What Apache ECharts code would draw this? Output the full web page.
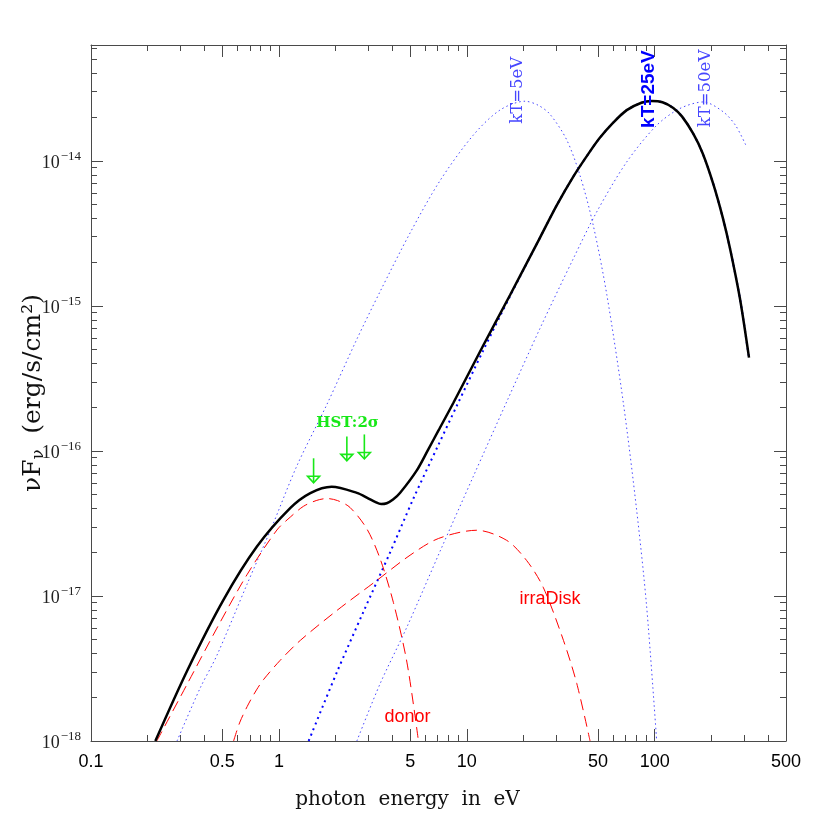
<!DOCTYPE html>
<html>
<head>
<meta charset="utf-8">
<title>nuFnu spectrum</title>
<script src="https://cdn.jsdelivr.net/npm/echarts@6/dist/echarts.min.js"></script>
<style>
  html, body { margin: 0; padding: 0; background: #fff; }
  #chart { width: 830px; height: 830px; }
</style>
</head>
<body>
<div id="chart"></div>
<script>
// photon energy (eV) and nuFnu (erg/s/cm2)
const totalE = [0.22, 0.324, 0.507, 0.764, 1.148, 1.47, 1.91, 2.6, 3.0, 3.25, 3.5, 3.75, 4.05, 4.42, 5.42, 6.2, 7.06, 8.49, 12.25, 17.0, 24.5, 30, 36.9, 45, 51.2, 60, 71, 85, 96.4, 110, 125.6, 140, 160.4, 180, 205, 230, 251.6, 284.5, 317.7];
const totalF = [1e-18, 3.03e-18, 9.4e-18, 2.19e-17, 4.03e-17, 5.12e-17, 5.66e-17, 5.14e-17, 4.7e-17, 4.45e-17, 4.3e-17, 4.36e-17, 4.62e-17, 5.15e-17, 7.35e-17, 1.01e-16, 1.38e-16, 2.15e-16, 5.36e-16, 1.19e-15, 2.95e-15, 4.9e-15, 7.8e-15, 1.15e-14, 1.45e-14, 1.83e-14, 2.24e-14, 2.52e-14, 2.59e-14, 2.54e-14, 2.32e-14, 2.02e-14, 1.54e-14, 1.13e-14, 6.95e-15, 4.1e-15, 2.5e-15, 1.12e-15, 4.4e-16];

const donorE = [0.224, 0.324, 0.468, 0.676, 0.976, 1.15, 1.35, 1.58, 1.80, 2.05, 2.39, 2.94, 3.46, 4.07, 4.80, 5.53];
const donorF = [1e-18, 2.45e-18, 6.0e-18, 1.4e-17, 2.85e-17, 3.5e-17, 4.15e-17, 4.55e-17, 4.7e-17, 4.55e-17, 4.08e-17, 2.9e-17, 1.8e-17, 9.0e-18, 3.5e-18, 1.0e-18];

const irraE = [0.574, 0.62, 0.689, 0.76, 0.828, 1.016, 1.30, 2.04, 3.32, 4.99, 7.06, 11.3, 16.3, 20.8, 25.5, 32.7, 38.5, 45.3];
const irraF = [1e-18, 1.35e-18, 1.8e-18, 2.25e-18, 2.65e-18, 3.6e-18, 4.94e-18, 7.96e-18, 1.28e-17, 1.91e-17, 2.49e-17, 2.84e-17, 2.42e-17, 1.76e-17, 1.15e-17, 4.94e-18, 2.49e-18, 1e-18];

const kT5E = [0.287, 0.38, 0.468, 0.676, 0.918, 1.247, 1.80, 2.60, 3.46, 5.0, 7.2, 10.8, 15.0, 20.4, 24.0, 27.7, 34.0, 40.1, 47.1, 55.6, 68.1, 80.2, 90.6, 102.5];
const kT5F = [1e-18, 2.3e-18, 3.9e-18, 1.2e-17, 3.0e-17, 7.9e-17, 2.09e-16, 5.9e-16, 1.26e-15, 3.2e-15, 7.3e-15, 1.5e-14, 2.24e-14, 2.58e-14, 2.42e-14, 2.1e-14, 1.4e-14, 7.9e-15, 3.6e-15, 1.2e-15, 2.15e-16, 3.9e-17, 8.5e-18, 1e-18];

const kT25E = [1.44, 2.04, 2.82, 3.91, 5.2, 7.06, 8.85, 12.25, 17.0, 24.5, 30, 36.9, 45, 51.2, 60, 71, 85, 96.4, 110, 125.6, 140, 160.4, 180, 205, 230, 251.6, 284.5, 317.7];
const kT25F = [1e-18, 3.0e-18, 7.8e-18, 2.0e-17, 4.7e-17, 1.1e-16, 2.05e-16, 4.95e-16, 1.17e-15, 2.95e-15, 4.9e-15, 7.8e-15, 1.15e-14, 1.45e-14, 1.83e-14, 2.24e-14, 2.52e-14, 2.59e-14, 2.54e-14, 2.32e-14, 2.02e-14, 1.54e-14, 1.13e-14, 6.95e-15, 4.1e-15, 2.5e-15, 1.12e-15, 4.4e-16];

const kT50E = [2.60, 3.46, 4.80, 7.25, 10.8, 16.3, 24.5, 36.9, 49.1, 71, 102.5, 136.4, 181.5, 231.7, 270, 308.6];
const kT50F = [1e-18, 2.49e-18, 6.1e-18, 2.07e-17, 6.62e-17, 2.18e-16, 6.98e-16, 2.12e-15, 4.44e-15, 9.84e-15, 1.76e-14, 2.3e-14, 2.55e-14, 2.18e-14, 1.75e-14, 1.25e-14];

// HST 2 sigma upper limits
const hstE = [1.53, 2.30, 2.85];
const hstF = [8.9e-17, 1.26e-16, 1.30e-16];

// text notes placed in data coordinates
const noteText = ['kT=5eV', 'kT=25eV', 'kT=50eV', 'HST:2σ', 'donor', 'irraDisk'];
const noteE = [18.6, 93.3, 187.5, 2.32, 4.84, 27.7];
const noteF = [3.07e-14, 3.13e-14, 3.16e-14, 1.56e-16, 1.47e-18, 9.48e-18];

// axis ticks
const xLabelValues = [0.1, 0.5, 1, 5, 10, 50, 100, 500];
const xMinorTicks = [0.2, 0.3, 0.4, 0.6, 0.7, 0.8, 0.9, 2, 3, 4, 6, 7, 8, 9, 20, 30, 40, 60, 70, 80, 90, 200, 300, 400];
const yLabelValues = [1e-18, 1e-17, 1e-16, 1e-15, 1e-14];
const yMinorMult = [2, 3, 4, 5, 6, 7, 8, 9];

const X_MIN = 0.1, X_MAX = 500, Y_MIN = 1e-18, Y_MAX = 6.3e-14;

const yMinorTicks = [];
yLabelValues.forEach(d => yMinorMult.forEach(m => {
  if (m * d < Y_MAX) yMinorTicks.push(m * d);
}));

const frame = '#4a4a4a';
const dotBlue = '#4646ff';
const green = '#18e818';

const noteStyle = [
  {color: dotBlue, size: 16.5, family: 'DejaVu Serif', weight: 'normal', rotate: true},
  {color: '#0000ff', size: 19, family: 'Liberation Sans', weight: 'bold', rotate: true},
  {color: dotBlue, size: 16.5, family: 'DejaVu Serif', weight: 'normal', rotate: true},
  {color: green, size: 15, family: 'DejaVu Serif', weight: 'bold', rotate: false},
  {color: '#ff0000', size: 18, family: 'Liberation Sans', weight: 'normal', rotate: false},
  {color: '#ff0000', size: 18, family: 'Liberation Sans', weight: 'normal', rotate: false}
];

function logAxis(pos, min, max, ticks, len, extra) {
  return Object.assign({
    type: 'log',
    logBase: 10,
    position: pos,
    min: min,
    max: max,
    axisLine: {show: true, onZero: false, lineStyle: {color: frame, width: 1}},
    axisTick: {show: true, inside: true, length: len, customValues: ticks, lineStyle: {color: frame, width: 1}},
    axisLabel: {show: false},
    splitLine: {show: false},
    minorTick: {show: false}
  }, extra || {});
}

function curve(E, F, style, z) {
  return {
    type: 'line',
    data: E.map((e, i) => [e, F[i]]),
    symbol: 'none',
    showSymbol: false,
    smooth: 0.3,
    lineStyle: style,
    z: z,
    silent: true
  };
}

const chart = echarts.init(document.getElementById('chart'));

chart.setOption({
  backgroundColor: '#fff',
  animation: false,
  grid: {left: 91, top: 45, width: 695, height: 696, containLabel: false, outerBoundsMode: 'none'},
  xAxis: [
    logAxis('bottom', X_MIN, X_MAX, xLabelValues, 12, {
      axisLabel: {
        show: true,
        customValues: xLabelValues,
        formatter: v => String(+(+v).toPrecision(3)),
        fontFamily: 'Liberation Sans',
        fontSize: 18,
        color: '#000',
        margin: 12
      },
      name: 'photon  energy  in  eV',
      nameLocation: 'middle',
      nameGap: 49,
      nameMoveOverlap: false,
      nameTextStyle: {fontFamily: 'DejaVu Serif', fontSize: 20, color: '#111', padding: [0, 62, 0, 0]}
    }),
    logAxis('bottom', X_MIN, X_MAX, xMinorTicks, 6, {axisLine: {show: false}}),
    logAxis('top', X_MIN, X_MAX, xLabelValues, 12),
    logAxis('top', X_MIN, X_MAX, xMinorTicks, 6, {axisLine: {show: false}})
  ],
  yAxis: [
    logAxis('left', Y_MIN, Y_MAX, yLabelValues, 12, {
      axisLabel: {
        show: true,
        customValues: yLabelValues,
        margin: 10,
        formatter: v => '{m|10}{e|−' + Math.round(-Math.log10(v)) + '}',
        rich: {
          m: {fontFamily: 'Liberation Serif', fontSize: 18, color: '#222', verticalAlign: 'bottom'},
          e: {fontFamily: 'Liberation Serif', fontSize: 13, color: '#222', verticalAlign: 'bottom', padding: [0, 0, 9, 1]}
        }
      },
      name: '{a|νF}{s|ν}{a|  (erg/s/cm²)}',
      nameLocation: 'middle',
      nameRotate: 90,
      nameGap: 44,
      nameMoveOverlap: false,
      nameTextStyle: {
        rich: {
          a: {fontFamily: 'DejaVu Serif', fontSize: 25, color: '#111', lineHeight: 28},
          s: {fontFamily: 'DejaVu Serif', fontSize: 16, color: '#111', lineHeight: 18, padding: [12, 0, 0, 0]}
        }
      }
    }),
    logAxis('left', Y_MIN, Y_MAX, yMinorTicks, 6, {axisLine: {show: false}}),
    logAxis('right', Y_MIN, Y_MAX, yLabelValues, 12),
    logAxis('right', Y_MIN, Y_MAX, yMinorTicks, 6, {axisLine: {show: false}})
  ],
  series: [
    curve(kT5E, kT5F, {color: dotBlue, width: 1, type: [1.5, 3]}, 2),
    curve(kT50E, kT50F, {color: dotBlue, width: 1, type: [1.5, 3]}, 2),
    curve(kT25E, kT25F, {color: '#0000ff', width: 2, type: [2, 4]}, 3),
    curve(donorE, donorF, {color: '#ff0000', width: 1, type: [11, 6]}, 3),
    curve(irraE, irraF, {color: '#ff0000', width: 1, type: [11, 6]}, 3),
    curve(totalE, totalF, {color: '#000', width: 2.5}, 5),
    {
      type: 'custom',
      z: 8,
      silent: true,
      data: hstE.map((e, i) => [e, hstF[i]]),
      renderItem: (params, api) => {
        const p = api.coord([api.value(0), api.value(1)]);
        return {
          type: 'group',
          children: [
            {type: 'line', shape: {x1: p[0], y1: p[1], x2: p[0], y2: p[1] + 24}, style: {stroke: green, lineWidth: 1.6}},
            {type: 'polygon', shape: {points: [[p[0] - 6, p[1] + 18], [p[0] + 6, p[1] + 18], [p[0], p[1] + 24.5]]},
              style: {fill: 'none', stroke: green, lineWidth: 1.6}}
          ]
        };
      }
    },
    {
      type: 'custom',
      z: 9,
      silent: true,
      data: noteE.map((e, i) => [e, noteF[i]]),
      renderItem: (params, api) => {
        const p = api.coord([api.value(0), api.value(1)]);
        const st = noteStyle[params.dataIndex];
        return {
          type: 'text',
          x: p[0],
          y: p[1],
          rotation: st.rotate ? Math.PI / 2 : 0,
          style: {
            text: noteText[params.dataIndex],
            fill: st.color,
            fontSize: st.size,
            fontFamily: st.family,
            fontWeight: st.weight,
            align: 'center',
            verticalAlign: 'middle'
          }
        };
      }
    }
  ]
});
</script>
</body>
</html>
